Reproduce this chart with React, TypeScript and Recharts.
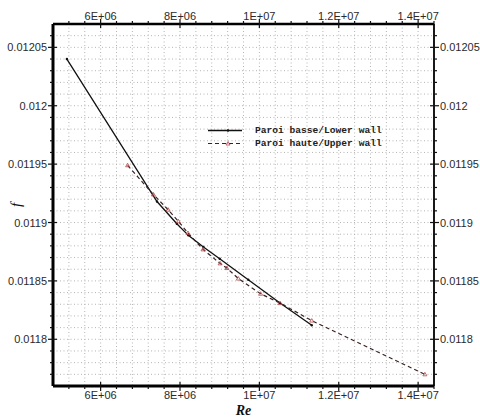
import React from 'react';
import { LineChart, Line, XAxis, YAxis, CartesianGrid } from 'recharts';

// tick values + the text shown for them
const reMajorTicks = [6e6, 8e6, 1e7, 1.2e7, 1.4e7];
const reMajorLabels = ['6E+06', '8E+06', '1E+07', '1.2E+07', '1.4E+07'];
const fMajorTicks = [0.0118, 0.01185, 0.0119, 0.01195, 0.012, 0.01205];
const fMajorLabels = ['0.0118', '0.01185', '0.0119', '0.01195', '0.012', '0.01205'];

const reDomain = [4.8e6, 1.44e7];
const fDomain = [0.01176, 0.01207];

// lower wall (solid)
const lowerRe = [5.15e6, 7.42e6, 7.92e6, 8.21e6, 8.59e6, 9.0e6, 9.72e6, 10.52e6, 11.32e6];
const lowerF = [0.01204, 0.011918, 0.011899, 0.011889, 0.011879, 0.011869, 0.011851, 0.011831, 0.011812];

// upper wall (dashed)
const upperRe = [6.68e6, 7.33e6, 7.7e6, 7.96e6, 8.2e6, 8.58e6, 9.01e6, 9.18e6, 9.47e6, 10.03e6, 10.52e6, 11.32e6, 14.17e6];
const upperF = [0.011949, 0.011924, 0.011911, 0.011901, 0.011891, 0.011877, 0.011865, 0.011861, 0.011852, 0.011839, 0.011831, 0.011816, 0.01177];

const lowerData = lowerRe.map((re, i) => ({ re, f: lowerF[i] }));
const upperData = upperRe.map((re, i) => ({ re, f: upperF[i] }));

// minor grid / tick positions: every 4E+05 in Re, every 1E-05 in f
const reGrid = Array.from({ length: 24 }, (_, i) => 5.2e6 + i * 4e5);
const fGrid = Array.from({ length: 30 }, (_, i) => Math.round((0.01177 + i * 1e-5) * 1e6) / 1e6);

const TICK_FONT = '"Liberation Sans", Arial, sans-serif';
const INK = '#111';
const DASH_INK = '#3a2222';
const MARK_RED = '#b04848';

function labelFor(v: number, ticks: number[], labels: string[]) {
  const i = ticks.findIndex((t) => Math.abs(t - v) < Math.abs(t) * 1e-6);
  return i >= 0 ? labels[i] : undefined;
}

function makeTick(side: 'top' | 'bottom' | 'left' | 'right') {
  const horiz = side === 'top' || side === 'bottom';
  const ticks = horiz ? reMajorTicks : fMajorTicks;
  const labels = horiz ? reMajorLabels : fMajorLabels;
  return (props: any) => {
    const { x, y, payload } = props;
    const label = labelFor(payload.value, ticks, labels);
    const major = label !== undefined;
    const out = major ? 5 : 3;
    const inn = major ? 4 : 0;
    let line;
    let text = null;
    const ts = { fontFamily: TICK_FONT, fontSize: 11, fill: '#2a2a2a' };
    if (side === 'bottom') {
      line = <line x1={x} x2={x} y1={y - inn} y2={y + out} stroke={INK} strokeWidth={1.2} />;
      if (major) text = <text x={x} y={y + 13} textAnchor="middle" style={ts}>{label}</text>;
    } else if (side === 'top') {
      line = <line x1={x} x2={x} y1={y + inn} y2={y - out} stroke={INK} strokeWidth={1.2} />;
      if (major) text = <text x={x} y={y - 4} textAnchor="middle" style={ts}>{label}</text>;
    } else if (side === 'left') {
      line = <line x1={x + inn} x2={x - out} y1={y} y2={y} stroke={INK} strokeWidth={1.2} />;
      if (major) text = <text x={x - 6} y={y + 4} textAnchor="end" style={ts}>{label}</text>;
    } else {
      line = <line x1={x - inn} x2={x + out} y1={y} y2={y} stroke={INK} strokeWidth={1.2} />;
      if (major) text = <text x={x + 6} y={y + 4} textAnchor="start" style={ts}>{label}</text>;
    }
    return (
      <g>
        {line}
        {text}
      </g>
    );
  };
}

const TriangleDot = (props: any) => {
  const { cx, cy, index } = props;
  if (cx == null || cy == null) return <g key={`u-${index}`} />;
  return (
    <path
      key={`u-${index}`}
      d={`M${cx},${cy - 2}L${cx + 2},${cy + 1.5}L${cx - 2},${cy + 1.5}Z`}
      fill="none"
      stroke={MARK_RED}
      strokeWidth={0.8}
    />
  );
};

const SmallDot = (props: any) => {
  const { cx, cy, index } = props;
  if (cx == null || cy == null) return <g key={`l-${index}`} />;
  return <circle key={`l-${index}`} cx={cx} cy={cy} r={1.2} fill={INK} />;
};

// legend sits inside the plot, so it is laid over the chart instead of
// going through <Legend/> (which would steal height from the plot area)
function WallLegend() {
  const rowStyle: React.CSSProperties = { display: 'flex', alignItems: 'center', height: 13 };
  const txt: React.CSSProperties = {
    fontFamily: '"Liberation Mono", "DejaVu Sans Mono", monospace',
    fontSize: 9.6,
    fontWeight: 'bold',
    color: '#222',
    whiteSpace: 'nowrap',
  };
  return (
    <div style={{ position: 'absolute', left: 206, top: 123.5 }}>
      <div style={rowStyle}>
        <svg width={49} height={13}>
          <line x1={2} x2={36} y1={6.5} y2={6.5} stroke={INK} strokeWidth={1.3} />
          <circle cx={22} cy={6.5} r={1.2} fill={INK} />
        </svg>
        <span style={txt}>Paroi basse/Lower wall</span>
      </div>
      <div style={rowStyle}>
        <svg width={49} height={13}>
          <line x1={2} x2={36} y1={6.5} y2={6.5} stroke={DASH_INK} strokeWidth={1.2} strokeDasharray="4 3" />
          <path d="M22,4.5L24,8L20,8Z" fill="none" stroke={MARK_RED} strokeWidth={0.8} />
        </svg>
        <span style={txt}>Paroi haute/Upper wall</span>
      </div>
    </div>
  );
}

export default function App() {
  return (
    <div style={{ position: 'absolute', left: 0, top: 0, width: 480, height: 417, background: '#fff' }}>
      <LineChart width={480} height={417} margin={{ top: 0, right: 0, bottom: 0, left: 0 }}>
        <CartesianGrid
          xAxisId="bottom"
          yAxisId="left"
          horizontalValues={fGrid}
          verticalValues={reGrid}
          stroke="#b4b4b4"
          strokeDasharray="1 2.5"
        />
        <XAxis
          xAxisId="bottom"
          orientation="bottom"
          type="number"
          dataKey="re"
          domain={reDomain}
          allowDataOverflow
          ticks={reGrid}
          interval={0}
          height={31}
          tickSize={0}
          tickMargin={0}
          tickLine={false}
          tick={makeTick('bottom')}
          axisLine={{ stroke: '#000', strokeWidth: 3 }}
          label={{
            value: 'Re',
            position: 'insideBottom',
            offset: 2,
            style: { fontFamily: '"Liberation Serif", "Times New Roman", serif', fontStyle: 'italic', fontWeight: 'bold', fontSize: 14, fill: '#111' },
          }}
        />
        <XAxis
          xAxisId="top"
          orientation="top"
          type="number"
          dataKey="re"
          domain={reDomain}
          allowDataOverflow
          ticks={reGrid}
          interval={0}
          height={24}
          tickSize={0}
          tickMargin={0}
          tickLine={false}
          tick={makeTick('top')}
          axisLine={{ stroke: '#000', strokeWidth: 2.5 }}
        />
        <YAxis
          yAxisId="left"
          orientation="left"
          type="number"
          dataKey="f"
          domain={fDomain}
          allowDataOverflow
          ticks={fGrid}
          interval={0}
          width={53}
          tickSize={0}
          tickMargin={0}
          tickLine={false}
          tick={makeTick('left')}
          axisLine={{ stroke: '#000', strokeWidth: 3 }}
          label={{
            value: 'f',
            angle: -90,
            position: 'insideLeft',
            offset: 16,
            style: { textAnchor: 'middle', fontFamily: '"Liberation Serif", "Times New Roman", serif', fontStyle: 'italic', fontSize: 15, fill: '#111' },
          }}
        />
        <YAxis
          yAxisId="right"
          orientation="right"
          type="number"
          dataKey="f"
          domain={fDomain}
          allowDataOverflow
          ticks={fGrid}
          interval={0}
          width={46}
          tickSize={0}
          tickMargin={0}
          tickLine={false}
          tick={makeTick('right')}
          axisLine={{ stroke: '#000', strokeWidth: 1.8 }}
        />
        <Line
          xAxisId="bottom"
          yAxisId="left"
          data={lowerData}
          dataKey="f"
          name="Paroi basse/Lower wall"
          type="linear"
          stroke={INK}
          strokeWidth={1.3}
          dot={SmallDot}
          activeDot={false}
          isAnimationActive={false}
        />
        <Line
          xAxisId="bottom"
          yAxisId="left"
          data={upperData}
          dataKey="f"
          name="Paroi haute/Upper wall"
          type="linear"
          stroke={DASH_INK}
          strokeWidth={1.2}
          strokeDasharray="4 3"
          dot={TriangleDot}
          activeDot={false}
          isAnimationActive={false}
        />
      </LineChart>
      <WallLegend />
    </div>
  );
}
